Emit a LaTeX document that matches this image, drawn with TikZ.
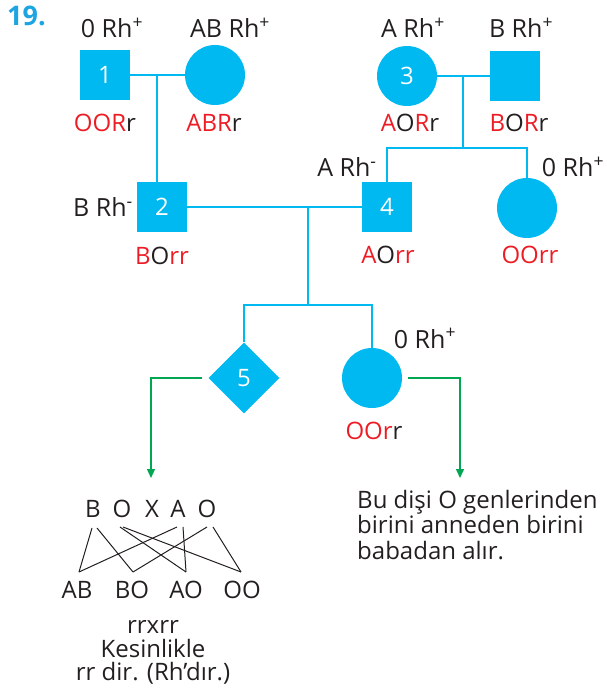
\documentclass[tikz,border=0pt]{standalone}
\usepackage{fontspec}
\setmainfont{Open Sans}
\usetikzlibrary{shapes.geometric,arrows.meta}
\definecolor{pblue}{RGB}{0,185,240}
\definecolor{pred}{RGB}{237,28,36}
\definecolor{pgreen}{RGB}{0,166,81}
\definecolor{ptext}{RGB}{35,31,32}
\definecolor{tblue}{RGB}{30,165,225}
\newcommand{\rd}[1]{\textcolor{pred}{#1}}
\begin{document}
\begin{tikzpicture}[x=1pt,y=-1pt,
  male/.style={rectangle,fill=pblue,minimum size=50pt,inner sep=0pt,text=white,font=\fontsize{24}{26}\selectfont},
  female/.style={circle,fill=pblue,minimum size=60pt,inner sep=0pt,text=white,font=\fontsize{24}{26}\selectfont},
  unk/.style={diamond,fill=pblue,minimum size=71pt,inner sep=0pt,text=white,font=\fontsize{24}{26}\selectfont},
  lbl/.style={text=ptext,font=\fontsize{25}{28}\selectfont,inner sep=0pt,anchor=base},
  geno/.style={text=ptext,font=\fontsize{24}{26}\selectfont,inner sep=0pt,anchor=base},
  txt/.style={text=ptext,font=\fontsize{24}{26}\selectfont,inner sep=0pt,anchor=base},
  link/.style={pblue,line width=2pt},
  garrow/.style={pgreen,line width=1.4pt,-{Triangle[length=9pt,width=8pt]}},
  cross/.style={ptext,line width=1pt}
]
\useasboundingbox (0,0) rectangle (606,692);
\node[text=tblue,font=\fontsize{27}{29}\selectfont\bfseries,inner sep=0pt,anchor=base west] (num) at (7,26) {19.};
% people
\node[male] (n1) at (105,75) {1};
\node[female] (f1) at (215,75) {};
\node[male] (n2) at (162,207) {2};
\node[female] (n3) at (407,76) {3};
\node[male] (m3) at (515,76) {};
\node[male] (n4) at (387,207) {4};
\node[female] (f4) at (527,208) {};
\node[unk] (n5) at (244,378) {5};
\node[female] (f5) at (372,378) {};
% connectors
\coordinate (j1) at (157,75);
\draw[link] (n1) -- (f1);
\draw[link] (j1) -- (j1 |- n2.north);
\coordinate (j4) at (463,76);
\coordinate (j5) at (463,148);
\draw[link] (n3) -- (m3);
\draw[link] (j4) -- (j5);
\draw[link] (n4.north) -- (n4 |- j5) -- (f4 |- j5) -- (f4.north);
\coordinate (j2) at (308,207);
\coordinate (j3) at (308,305);
\draw[link] (n2) -- (n4);
\draw[link] (j2) -- (j3);
\draw[link] (n5.north) -- (n5 |- j3) -- (f5 |- j3) -- (f5.north);
% green arrows
\coordinate (a1) at (151,478);
\coordinate (a2) at (460,478);
\draw[garrow,shorten <=6pt] (n5.west) -| (a1);
\draw[garrow,shorten <=6pt] (f5.east) -| (a2);
% phenotype labels
\node[lbl] (p1) at (112,38) {0 Rh\textsuperscript{+}};
\node[lbl] (pf1) at (230,38) {AB Rh\textsuperscript{+}};
\node[lbl] (p3) at (413,38) {A Rh\textsuperscript{+}};
\node[lbl] (pm3) at (521,38) {B Rh\textsuperscript{+}};
\node[lbl,anchor=base east] (p2) at (133,217) {B Rh\textsuperscript{-}};
\node[lbl] (p4) at (347,177) {A Rh\textsuperscript{-}};
\node[lbl] (pf4) at (573,177) {0 Rh\textsuperscript{+}};
\node[lbl] (pf5) at (425,348) {0 Rh\textsuperscript{+}};
% genotype labels
\node[geno] (g1) at (105,132) {\rd{OOR}r};
\node[geno] (gf1) at (214,132) {\rd{ABR}r};
\node[geno] (g3) at (410,132) {\rd{A}O\rd{R}r};
\node[geno] (gm3) at (519,132) {\rd{B}O\rd{R}r};
\node[geno] (g2) at (162,265) {\rd{B}O\rd{rr}};
\node[geno] (g4) at (388,263) {\rd{A}O\rd{rr}};
\node[geno] (gf4) at (530,263) {\rd{OOrr}};
\node[geno] (gf5) at (374,439) {\rd{OOr}r};
% cross
\node[txt] (pB) at (93,517) {B};
\node[txt] (pO) at (122,517) {O};
\node[txt] (pX) at (152,517) {X};
\node[txt] (pA) at (178,517) {A};
\node[txt] (pO2) at (207,517) {O};
\node[txt] (cAB) at (77,598) {AB};
\node[txt] (cBO) at (132,598) {BO};
\node[txt] (cAO) at (186,598) {AO};
\node[txt] (cOO) at (242,598) {OO};
\draw[cross] ([shift={(-1,11)}]pB.base) -- ([shift={(2,-26)}]cAB.base);
\draw[cross] ([shift={(4,11)}]pB.base) -- ([shift={(1,-26)}]cBO.base);
\draw[cross] ([shift={(-2,10)}]pO.base) -- ([shift={(0,-26)}]cAO.base);
\draw[cross] ([shift={(1,10)}]pO.base) -- ([shift={(-1,-26)}]cOO.base);
\draw[cross] ([shift={(-1,10)}]pA.base) -- ([shift={(2,-26)}]cAB.base);
\draw[cross] ([shift={(5,10)}]pA.base) -- ([shift={(0,-26)}]cAO.base);
\draw[cross] ([shift={(0,10)}]pO2.base) -- ([shift={(1,-26)}]cBO.base);
\draw[cross] ([shift={(6,10)}]pO2.base) -- ([shift={(-1,-26)}]cOO.base);
\node[txt] (r1) at (153,633) {rrxrr};
\node[txt] (r2) at (153,657) {Kesinlikle};
\node[txt] (r3) at (153,680) {rr dir. (Rh’dır.)};
\node[text=ptext,font=\fontsize{24}{25.5}\selectfont,inner sep=0pt,align=left,anchor=north west] (note) at (357,490) {Bu dişi O genlerinden\\birini anneden birini\\babadan alır.};
\end{tikzpicture}
\end{document}
